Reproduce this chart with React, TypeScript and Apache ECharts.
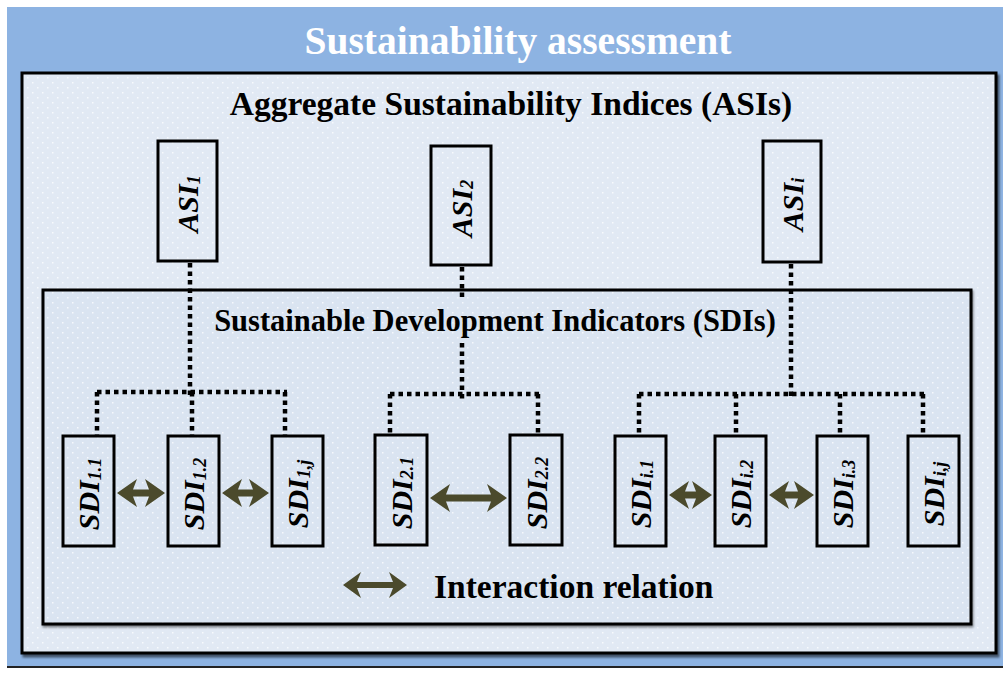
import React, { useEffect, useRef } from 'react';
import * as echarts from 'echarts';

// ---- content ----
const titleText = 'Sustainability assessment';
const asiHeading = 'Aggregate Sustainability Indices (ASIs)';
const sdiHeading = 'Sustainable Development Indicators (SDIs)';
const legendLabel = 'Interaction relation';

const asiMain = 'ASI';
const sdiMain = 'SDI';
const asiSubs = ['1', '2', 'i'];
const sdiGroups = [
  ['1.1', '1.2', '1,j'],
  ['2.1', '2.2'],
  ['i.1', 'i.2', 'i.3', 'i,j'],
];
// interaction relations (pairs of SDI indices inside each group)
const sdiLinks = [
  [[0, 1], [1, 2]],
  [[0, 1]],
  [[0, 1], [1, 2]],
];

// ---- layout ----
const ASI_BOXES = [
  { x: 158, y: 141, w: 59, h: 120 },
  { x: 431, y: 146, w: 60, h: 119 },
  { x: 763, y: 141, w: 58, h: 121 },
];
const SDI_LAYOUT = [
  { xs: [63, 168, 272], y: 436, w: 51, h: 110, hubY: 392, drops: [97, 192, 285], stemX: 190, arrowY: 493 },
  { xs: [375, 510], y: 435, w: 52, h: 110, hubY: 394, drops: [390, 538], stemX: 462, arrowY: 498 },
  { xs: [615, 715, 817, 908], y: 436, w: 51, h: 110, hubY: 394, drops: [639, 736, 840, 923], stemX: 791, arrowY: 495 },
];
// region covered by the SDI heading (stems are hidden behind it)
const HEADING_GAP = { x1: 208, x2: 782, y1: 300, y2: 343 };

const FONT = '"Liberation Serif", "Times New Roman", serif';
const ARROW_COLOR = '#4b4a2c';

function makePattern(bg: string) {
  const c = document.createElement('canvas');
  c.width = 10;
  c.height = 10;
  const ctx = c.getContext('2d')!;
  ctx.fillStyle = bg;
  ctx.fillRect(0, 0, 10, 10);
  ctx.fillStyle = 'rgba(255,255,255,0.75)';
  ctx.fillRect(2, 2, 1.5, 1.5);
  ctx.fillRect(7, 7, 1.5, 1.5);
  return { image: c.toDataURL(), repeat: 'repeat', imageWidth: 10, imageHeight: 10 } as any;
}

function arrow(x1: number, x2: number, y: number, hl = 20, hh = 14, sh = 3.5) {
  const n = 4; // barb notch
  return {
    type: 'polygon',
    shape: {
      points: [
        [x1, y], [x1 + hl, y - hh], [x1 + hl - n, y - sh], [x2 - hl + n, y - sh], [x2 - hl, y - hh],
        [x2, y], [x2 - hl, y + hh], [x2 - hl + n, y + sh], [x1 + hl - n, y + sh], [x1 + hl, y + hh],
      ],
    },
    style: { fill: ARROW_COLOR },
  };
}

function dotted(x1: number, y1: number, x2: number, y2: number) {
  return {
    type: 'line',
    shape: { x1, y1, x2, y2 },
    style: { stroke: '#000', lineWidth: 4.5, lineDash: [4.5, 4] },
  };
}

function boxWithLabel(b: { x: number; y: number; w: number; h: number }, main: string, sub: string) {
  return [
    {
      type: 'rect',
      shape: { x: b.x, y: b.y, width: b.w, height: b.h },
      style: { fill: 'transparent', stroke: '#000', lineWidth: 3 },
    },
    {
      type: 'text',
      x: b.x + b.w / 2,
      y: b.y + b.h / 2 + 3,
      rotation: Math.PI / 2,
      style: {
        text: `{m|${main}}{s|${sub}}`,
        align: 'center',
        verticalAlign: 'middle',
        rich: {
          m: { fontFamily: FONT, fontSize: 30, fontWeight: 'bold', fontStyle: 'italic', fill: '#000', lineHeight: 30 },
          s: { fontFamily: FONT, fontSize: 18, fontWeight: 'bold', fontStyle: 'italic', fill: '#000', lineHeight: 14, verticalAlign: 'bottom' },
        },
      },
    },
  ];
}

export default function App() {
  const ref = useRef<HTMLDivElement>(null);
  useEffect(() => {
    document.body.style.margin = '0';
    const chart = echarts.init(ref.current!, undefined, { renderer: 'svg' });
    const elements: any[] = [];

    // page background
    elements.push({ type: 'rect', shape: { x: 0, y: 0, width: 1003, height: 673 }, style: { fill: '#fff' } });
    elements.push({ type: 'rect', shape: { x: 7, y: 7, width: 996, height: 660 }, style: { fill: '#8db3e2' } });
    elements.push({ type: 'line', shape: { x1: 7, y1: 667, x2: 1003, y2: 667 }, style: { stroke: '#222', lineWidth: 2 } });

    elements.push({
      type: 'text', x: 518, y: 41,
      style: { text: titleText, font: `bold 39.5px ${FONT}`, fill: '#fff', align: 'center', verticalAlign: 'middle' },
    });

    // outer box
    elements.push({
      type: 'rect',
      shape: { x: 22, y: 73, width: 974, height: 580 },
      style: {
        fill: makePattern('#e1e9f4'), stroke: '#000', lineWidth: 3,
        shadowColor: 'rgba(0,0,0,0.55)', shadowOffsetX: 2, shadowOffsetY: 3, shadowBlur: 2,
      },
    });
    elements.push({
      type: 'text', x: 511, y: 103,
      style: { text: asiHeading, font: `bold 33.5px ${FONT}`, fill: '#000', align: 'center', verticalAlign: 'middle' },
    });

    // inner box
    elements.push({
      type: 'rect',
      shape: { x: 43, y: 290, width: 928, height: 334 },
      style: {
        fill: makePattern('#dae4f1'), stroke: '#000', lineWidth: 3,
        shadowColor: 'rgba(0,0,0,0.45)', shadowOffsetX: 1, shadowOffsetY: 2, shadowBlur: 2,
      },
    });
    elements.push({
      type: 'text', x: 495, y: 321,
      style: { text: sdiHeading, font: `bold 30.5px ${FONT}`, fill: '#000', align: 'center', verticalAlign: 'middle' },
    });

    // connectors
    sdiGroups.forEach((g, gi) => {
      const L = SDI_LAYOUT[gi];
      const a = ASI_BOXES[gi];
      const top = a.y + a.h + 2;
      const bottom = L.hubY + 6;
      if (L.stemX > HEADING_GAP.x1 && L.stemX < HEADING_GAP.x2) {
        elements.push(dotted(L.stemX, top, L.stemX, HEADING_GAP.y1));
        elements.push(dotted(L.stemX, HEADING_GAP.y2, L.stemX, bottom));
      } else {
        elements.push(dotted(L.stemX, top, L.stemX, bottom));
      }
      elements.push(dotted(L.drops[0], L.hubY, L.drops[L.drops.length - 1] + 2, L.hubY));
      L.drops.forEach((dx) => elements.push(dotted(dx, L.hubY, dx, L.y - 1)));
    });

    // ASI boxes
    asiSubs.forEach((s, i) => elements.push(...boxWithLabel(ASI_BOXES[i], asiMain, s)));

    // SDI boxes and arrows
    sdiGroups.forEach((g, gi) => {
      const L = SDI_LAYOUT[gi];
      g.forEach((s, i) => elements.push(...boxWithLabel({ x: L.xs[i], y: L.y, w: L.w, h: L.h }, sdiMain, s)));
      sdiLinks[gi].forEach(([p, q]) => {
        elements.push(arrow(L.xs[p] + L.w + 3, L.xs[q] - 3, L.arrowY));
      });
    });

    // legend
    elements.push(arrow(343, 407, 585, 18, 13, 3));
    elements.push({
      type: 'text', x: 434, y: 586,
      style: { text: legendLabel, font: `bold 33.5px ${FONT}`, fill: '#000', align: 'left', verticalAlign: 'middle' },
    });

    chart.setOption({ animation: false, graphic: { elements } });
    return () => chart.dispose();
  }, []);
  return <div ref={ref} style={{ width: 1003, height: 673 }} />;
}
